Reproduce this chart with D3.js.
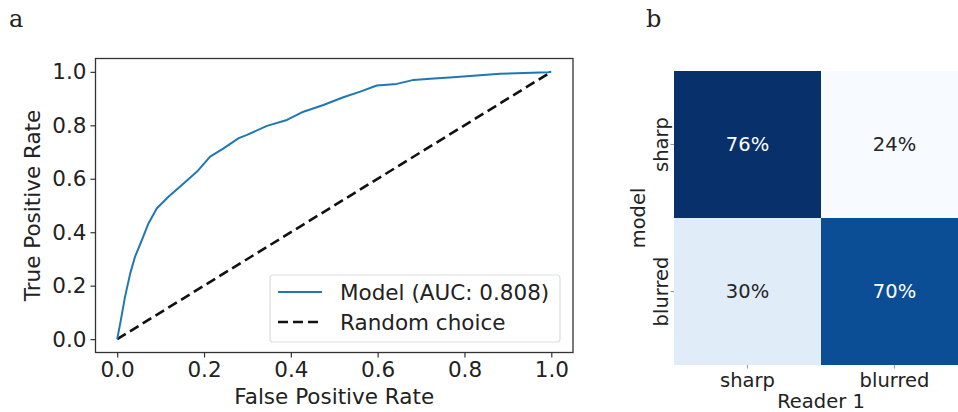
<!DOCTYPE html>
<html>
<head>
<meta charset="utf-8">
<script src="https://cdn.jsdelivr.net/npm/d3@7"></script>
<style>
body { margin: 0; background: #fff; }
text { font-family: "DejaVu Sans", sans-serif; fill: #222; }
</style>
</head>
<body>
<script>
var width = 958;
var height = 412;
var fs = 21.5;   // ROC panel text
var fsb = 19.5;  // heatmap text

// ROC curve
var fpr = [0, 0.007, 0.018, 0.030, 0.041, 0.057, 0.072, 0.091, 0.118, 0.149, 0.184, 0.214, 0.245, 0.280, 0.299, 0.345, 0.391, 0.429, 0.475, 0.521, 0.560, 0.598, 0.644, 0.683, 0.721, 0.774, 0.882, 0.993, 1.0];
var tpr = [0, 0.059, 0.158, 0.246, 0.308, 0.371, 0.433, 0.489, 0.533, 0.577, 0.627, 0.683, 0.714, 0.752, 0.764, 0.798, 0.820, 0.851, 0.876, 0.905, 0.926, 0.949, 0.955, 0.970, 0.974, 0.980, 0.993, 0.999, 1.0];
var ticks = [0, 0.2, 0.4, 0.6, 0.8, 1.0];

// confusion matrix
var classes = ["sharp", "blurred"];
var matrix = [[76, 24], [30, 70]];

var svg = d3.select('body').append('svg').attr('width', width).attr('height', height);

// ---- panel a ----
var frame = {left: 95.5, right: 573, top: 58.5, bottom: 352.5};
var x = d3.scaleLinear().domain([-0.05, 1.05]).range([frame.left, frame.right]);
var y = d3.scaleLinear().domain([-0.05, 1.05]).range([frame.bottom, frame.top]);

svg.append("text").attr("x", 9).attr("y", 27)
  .style("font-family", "'DejaVu Serif', serif").style("font-size", "24px").text("a");

var ga = svg.append("g");

var xAxis = ga.append("g").attr("transform", "translate(0," + frame.bottom + ")")
  .call(d3.axisBottom(x).tickValues(ticks).tickFormat(d3.format(".1f")).tickSize(5).tickPadding(4).tickSizeOuter(0));
var yAxis = ga.append("g").attr("transform", "translate(" + frame.left + ",0)")
  .call(d3.axisLeft(y).tickValues(ticks).tickFormat(d3.format(".1f")).tickSize(5).tickPadding(4).tickSizeOuter(0));
[xAxis, yAxis].forEach(function (a) {
  a.selectAll("text").style("font-size", fs + "px").style("fill", "#222");
  a.selectAll("line").attr("stroke", "#333").attr("stroke-width", 1.2);
  a.select(".domain").remove();
});

ga.append("rect")
  .attr("x", frame.left).attr("y", frame.top)
  .attr("width", frame.right - frame.left).attr("height", frame.bottom - frame.top)
  .attr("fill", "none").attr("stroke", "#333").attr("stroke-width", 1.3);

var pts = d3.range(fpr.length).map(function (i) { return [fpr[i], tpr[i]]; });
var line = d3.line().x(function (d) { return x(d[0]); }).y(function (d) { return y(d[1]); });

ga.append("path").datum([[0, 0], [1, 1]]).attr("d", line)
  .attr("fill", "none").attr("stroke", "#111").attr("stroke-width", 2.6)
  .attr("stroke-dasharray", "10,5");
ga.append("path").datum(pts).attr("d", line)
  .attr("fill", "none").attr("stroke", "#1f77b4").attr("stroke-width", 2)
  .attr("stroke-linejoin", "round");

ga.append("text").attr("x", (frame.left + frame.right) / 2).attr("y", 404)
  .attr("text-anchor", "middle").style("font-size", fs + "px").text("False Positive Rate");
ga.append("text").attr("transform", "translate(40," + ((frame.top + frame.bottom) / 2) + ") rotate(-90)")
  .attr("text-anchor", "middle").style("font-size", fs + "px").text("True Positive Rate");

// legend
var leg = ga.append("g");
leg.append("rect").attr("x", 270).attr("y", 275).attr("width", 290).attr("height", 67)
  .attr("rx", 3).attr("fill", "#fff").attr("fill-opacity", 0.8).attr("stroke", "#ddd").attr("stroke-width", 1.2);
var items = [
  {label: "Model (AUC: 0.808)", color: "#1f77b4", dash: null, w: 2},
  {label: "Random choice", color: "#111", dash: "10,5", w: 2.6}
];
items.forEach(function (it, i) {
  var cy = 292 + i * 30;
  leg.append("line").attr("x1", 278).attr("x2", 322).attr("y1", cy).attr("y2", cy)
    .attr("stroke", it.color).attr("stroke-width", it.w).attr("stroke-dasharray", it.dash);
  leg.append("text").attr("x", 340).attr("y", cy + 8).style("font-size", fs + "px").text(it.label);
});

// ---- panel b ----
svg.append("text").attr("x", 646).attr("y", 27)
  .style("font-family", "'DejaVu Serif', serif").style("font-size", "24px").text("b");

var hx = d3.scaleBand().domain(classes).range([674, 968]);
var hy = d3.scaleBand().domain(classes).range([71, 365]);
var color = d3.scaleSequential(d3.interpolateBlues).domain([24, 76]);

var cells = [];
matrix.forEach(function (row, i) {
  row.forEach(function (v, j) { cells.push({r: classes[i], c: classes[j], v: v}); });
});

var gb = svg.append("g");
gb.selectAll("rect.cell").data(cells).enter().append("rect")
  .attr("class", "cell")
  .attr("x", function (d) { return hx(d.c); })
  .attr("y", function (d) { return hy(d.r); })
  .attr("width", hx.bandwidth()).attr("height", hy.bandwidth())
  .attr("fill", function (d) { return color(d.v); });

gb.selectAll("text.val").data(cells).enter().append("text")
  .attr("class", "val")
  .attr("x", function (d) { return hx(d.c) + hx.bandwidth() / 2; })
  .attr("y", function (d) { return hy(d.r) + hy.bandwidth() / 2; })
  .attr("dy", "0.35em").attr("text-anchor", "middle")
  .style("font-size", fsb + "px")
  .style("fill", function (d) { return d.v > 50 ? "#fff" : "#262626"; })
  .text(function (d) { return d.v + "%"; });

var bx = gb.append("g").attr("transform", "translate(0,365)")
  .call(d3.axisBottom(hx).tickSize(3.5).tickPadding(5));
var by = gb.append("g").attr("transform", "translate(674,0)")
  .call(d3.axisLeft(hy).tickSize(3.5).tickPadding(6));
[bx, by].forEach(function (a) {
  a.select(".domain").remove();
  a.selectAll("text").style("font-size", fsb + "px").style("fill", "#222");
  a.selectAll("line").attr("stroke", "#999");
});
by.selectAll("text")
  .attr("x", 0).attr("y", 0).attr("dy", "0").attr("text-anchor", "middle")
  .attr("transform", "translate(-6,0) rotate(-90)");

gb.append("text").attr("x", 821).attr("y", 408).attr("text-anchor", "middle")
  .style("font-size", fsb + "px").text("Reader 1");
gb.append("text").attr("transform", "translate(645,218) rotate(-90)").attr("text-anchor", "middle")
  .style("font-size", fsb + "px").text("model");
</script>
</body>
</html>
